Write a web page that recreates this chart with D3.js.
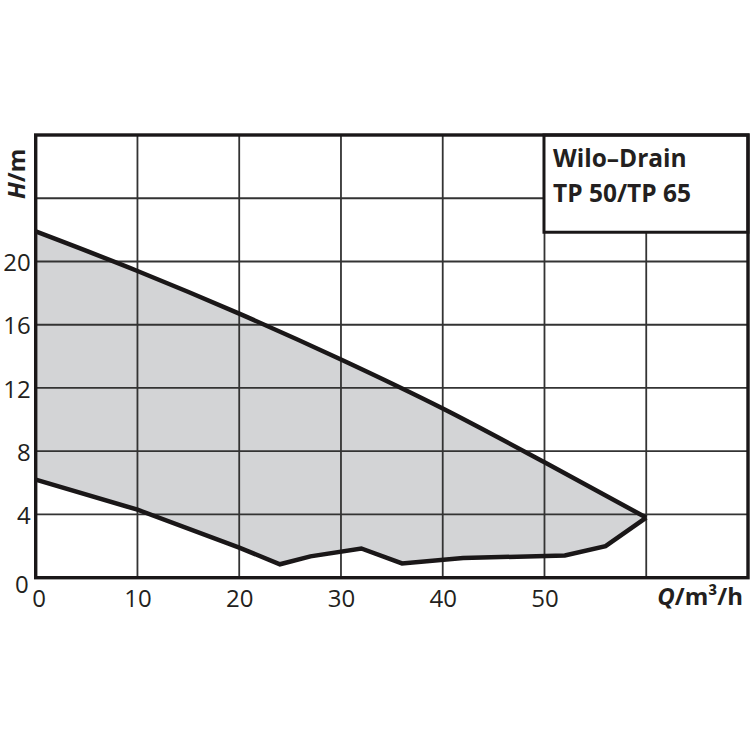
<!DOCTYPE html>
<html><head><meta charset="utf-8">
<script src="https://cdn.jsdelivr.net/npm/d3@7"></script>
<style>body{margin:0;background:#fff}svg{display:block}text{font-family:"Open Sans","DejaVu Sans",sans-serif;fill:#231f20}</style>
</head><body>
<svg id="c" width="750" height="750"></svg>
<script>
const xTicks = [0,10,20,30,40,50];
const yTicks = [0,4,8,12,16,20];
const upperQ = [0, 10, 20, 30, 40, 50, 60];
const upperH = [21.9, 19.4, 16.7, 13.8, 10.7, 7.3, 3.8];
const lowerQ = [0, 10, 20, 24, 27, 32, 36, 42, 52, 56, 60];
const lowerH = [6.2, 4.3, 1.9, 0.85, 1.35, 1.85, 0.9, 1.25, 1.4, 2.0, 3.8];
const titleLines = ["Wilo\u2013Drain", "TP 50/TP 65"];

const svg = d3.select("#c");
const x = d3.scaleLinear().domain([0,70]).range([35.7,748]);
const y = d3.scaleLinear().domain([0,28]).range([577.7,135]);

const upper = upperQ.map((q,i)=>[q,upperH[i]]);
const lower = lowerQ.map((q,i)=>[q,lowerH[i]]);

const upperLine = d3.line().x(d=>x(d[0])).y(d=>y(d[1])).curve(d3.curveMonotoneX);
const lowerLine = d3.line().x(d=>x(d[0])).y(d=>y(d[1]));

const upperD = upperLine(upper);
const lowerRevD = lowerLine(lower.slice().reverse()).replace(/^M/, "L");
svg.append("path").attr("d", upperD + lowerRevD + "Z").attr("fill","#d3d4d6");

// grid
const g = svg.append("g").attr("stroke","#333").attr("stroke-width",1.8);
d3.range(10,70,10).forEach(v=>{
  g.append("line").attr("x1",x(v)).attr("x2",x(v)).attr("y1",y(0)).attr("y2",y(28));
});
d3.range(4,28,4).forEach(v=>{
  g.append("line").attr("x1",x(0)).attr("x2",x(70)).attr("y1",y(v)).attr("y2",y(v));
});

// curves
svg.append("path").attr("d",upperD).attr("fill","none").attr("stroke","#1a1718").attr("stroke-width",4.5);
svg.append("path").attr("d",lowerLine(lower)).attr("fill","none").attr("stroke","#1a1718").attr("stroke-width",4.5).attr("stroke-linejoin","miter");

// title box
svg.append("rect").attr("x",x(50)-0.5).attr("y",y(28)).attr("width",x(70)-x(50)+0.5).attr("height",y(21.85)-y(28))
  .attr("fill","#fff").attr("stroke","#1a1718").attr("stroke-width",3);
titleLines.forEach((t,i)=>{
  svg.append("text").attr("x",553).attr("y",167+i*35).attr("font-size",24.5).attr("font-weight","bold").text(t);
});

// frame
svg.append("rect").attr("x",x(0)).attr("y",y(28)).attr("width",x(70)-x(0)).attr("height",y(0)-y(28))
  .attr("fill","none").attr("stroke","#1a1718").attr("stroke-width",3.4);

// axes labels via d3 axes
const xAxis = d3.axisBottom(x).tickValues(xTicks).tickSize(0).tickPadding(0);
const xa = svg.append("g").attr("transform",`translate(0,${y(0)})`).call(xAxis);
xa.select(".domain").remove();
xa.attr("font-family",null).attr("font-size",null);
xa.selectAll("text").attr("dy",null).attr("y",29.5).attr("font-size",24).attr("fill","#231f20");
xa.selectAll("text").filter(d=>d===0).attr("dx",3);

const yAxis = d3.axisLeft(y).tickValues(yTicks).tickSize(0).tickPadding(0);
const ya = svg.append("g").attr("transform",`translate(${x(0)-5},0)`).call(yAxis);
ya.select(".domain").remove();
ya.attr("font-family",null).attr("font-size",null);
ya.selectAll("text").attr("dy","0.38em").attr("font-size",24).attr("fill","#231f20");
ya.selectAll("text").filter(d=>d===0).attr("dy","0.6em").attr("x",-2);

// axis titles
const yt = svg.append("text").attr("transform","translate(25,199) rotate(-90)").attr("font-size",24).attr("font-weight","bold");
yt.append("tspan").attr("font-style","italic").text("H");
yt.append("tspan").text("/m");

const xt = svg.append("text").attr("x",743).attr("y",605).attr("text-anchor","end").attr("font-size",24).attr("font-weight","bold");
xt.append("tspan").attr("font-style","italic").text("Q");
xt.append("tspan").text("/m\u00b3/h");
</script>
</body></html>
